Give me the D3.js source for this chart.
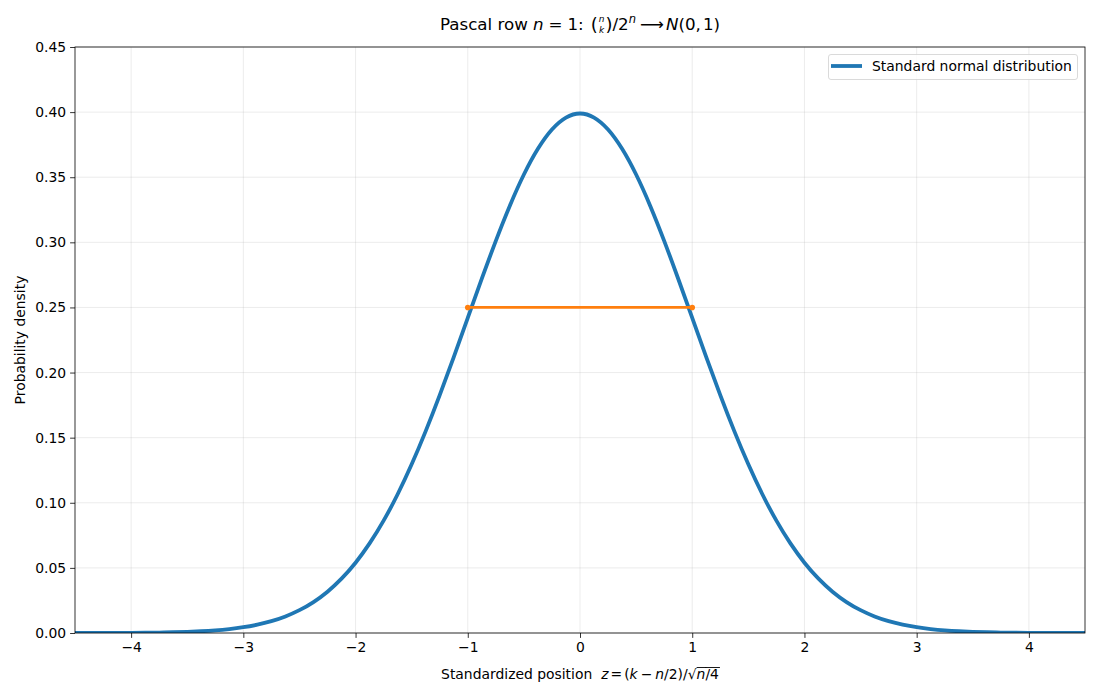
<!DOCTYPE html>
<html><head><meta charset="utf-8">
<script src="https://cdn.jsdelivr.net/npm/d3@7"></script>
<style>body{margin:0;background:#fff;} text{font-family:"DejaVu Sans",sans-serif;white-space:pre;}</style>
</head><body><svg id="c" width="1100" height="700"></svg>
<script>
// Standard normal curve values (z, density)
const curveZ = [-4.5,-4.375,-4.25,-4.125,-4,-3.875,-3.75,-3.625,-3.5,-3.375,-3.25,-3.125,-3,-2.875,-2.75,-2.625,-2.5,-2.375,-2.25,-2.125,-2,-1.875,-1.75,-1.625,-1.5,-1.375,-1.25,-1.125,-1,-0.875,-0.75,-0.625,-0.5,-0.375,-0.25,-0.125,0,0.125,0.25,0.375,0.5,0.625,0.75,0.875,1,1.125,1.25,1.375,1.5,1.625,1.75,1.875,2,2.125,2.25,2.375,2.5,2.625,2.75,2.875,3,3.125,3.25,3.375,3.5,3.625,3.75,3.875,4,4.125,4.25,4.375,4.5];
const curveY = [0.000016,0.000028,0.000048,0.00008,0.000134,0.00022,0.00035,0.00056,0.00087,0.00134,0.00203,0.00302,0.00443,0.0064,0.00909,0.01273,0.01753,0.02377,0.03174,0.04172,0.05399,0.06879,0.08628,0.10654,0.12952,0.15501,0.18265,0.21188,0.24197,0.27205,0.30114,0.32816,0.35207,0.37185,0.38667,0.39584,0.39894,0.39584,0.38667,0.37185,0.35207,0.32816,0.30114,0.27205,0.24197,0.21188,0.18265,0.15501,0.12952,0.10654,0.08628,0.06879,0.05399,0.04172,0.03174,0.02377,0.01753,0.01273,0.00909,0.0064,0.00443,0.00302,0.00203,0.00134,0.00087,0.00056,0.00035,0.00022,0.000134,0.00008,0.000048,0.000028,0.000016];
// Pascal row n=1 standardized points
const pascalZ = [-1, 1];
const pascalY = [0.25, 0.25];
const xTicks = [-4,-3,-2,-1,0,1,2,3,4];
const yTicks = [0,0.05,0.10,0.15,0.20,0.25,0.30,0.35,0.40,0.45];
const legendLabel = "Standard normal distribution";

const svg = d3.select("#c");
const L=75,R=1085,T=47,B=633;
const x = d3.scaleLinear().domain([-4.5,4.5]).range([L,R]);
const y = d3.scaleLinear().domain([0,0.45]).range([B,T]);

// grid
const g = svg.append("g");
g.selectAll(".gx").data(xTicks).join("line").attr("x1",d=>x(d)).attr("x2",d=>x(d)).attr("y1",T).attr("y2",B).attr("stroke","#b0b0b0").attr("stroke-opacity",0.3).attr("stroke-width",0.8);
g.selectAll(".gy").data(yTicks).join("line").attr("y1",d=>y(d)).attr("y2",d=>y(d)).attr("x1",L).attr("x2",R).attr("stroke","#b0b0b0").attr("stroke-opacity",0.3).attr("stroke-width",0.8);

// axes
const fmtX = d => (d<0?"\u2212":"")+Math.abs(d);
const ax = svg.append("g").attr("transform",`translate(0,${B})`).call(d3.axisBottom(x).tickValues(xTicks).tickFormat(fmtX).tickSize(4.9).tickPadding(4));
const ay = svg.append("g").attr("transform",`translate(${L},0)`).call(d3.axisLeft(y).tickValues(yTicks).tickFormat(d3.format(".2f")).tickSize(4.9).tickPadding(4));
[ax,ay].forEach(a=>{a.select(".domain").remove();a.selectAll("text").attr("font-size","13.9px").attr("font-family","DejaVu Sans").attr("fill","#000");a.selectAll("line").attr("stroke","#000").attr("stroke-width",0.8);});

svg.append("clipPath").attr("id","clp").append("rect").attr("x",L).attr("y",T).attr("width",R-L).attr("height",B-T);

// curve
const pts = curveZ.map((z,i)=>[z,curveY[i]]);
svg.append("path").attr("clip-path","url(#clp)").attr("d",d3.line().x(d=>x(d[0])).y(d=>y(d[1])).curve(d3.curveNatural)(pts))
  .attr("fill","none").attr("stroke","#1f77b4").attr("stroke-width",3.8).attr("stroke-linejoin","round");

// pascal
const pp = pascalZ.map((z,i)=>[z,pascalY[i]]);
svg.append("path").attr("d",d3.line().x(d=>x(d[0])).y(d=>y(d[1]))(pp)).attr("fill","none").attr("stroke","#ff7f0e").attr("stroke-width",2.8);
svg.selectAll(".pm").data(pp).join("circle").attr("cx",d=>x(d[0])).attr("cy",d=>y(d[1])).attr("r",2.8).attr("fill","#ff7f0e");

// frame
svg.append("rect").attr("x",L).attr("y",T).attr("width",R-L).attr("height",B-T).attr("fill","none").attr("stroke","#000").attr("stroke-width",0.8);

// legend
svg.append("rect").attr("x",828.5).attr("y",54.5).attr("width",249).attr("height",25).attr("rx",2.5).attr("fill","#fff").attr("fill-opacity",0.8).attr("stroke","#d0d0d0").attr("stroke-width",0.8);
svg.append("line").attr("x1",831).attr("x2",862).attr("y1",66).attr("y2",66).attr("stroke","#1f77b4").attr("stroke-width",3.8);
svg.append("text").attr("x",872).attr("y",71).attr("font-size","13.9px").text(legendLabel);

// rich text layout helper
function measure(parent, t, size, it){
  const tmp = parent.append("text").attr("font-size",size+"px").attr("font-style",it?"italic":"normal").text(t);
  const w = tmp.node().getComputedTextLength(); tmp.remove(); return w;
}
function rich(parent, pieces, cx, baseY){
  const grp = parent.append("g");
  let cur = 0;
  pieces.forEach(p=>{
    if(p.binom){
      const ps = p.psize, ss = p.size;
      const wp = measure(grp,"(",ps,false);
      const w1 = measure(grp,p.binom[0],ss,true), w2 = measure(grp,p.binom[1],ss,true);
      const w = Math.max(w1,w2);
      const t = grp.append("text");
      t.append("tspan").attr("x",cur).attr("y",baseY+1).attr("font-size",ps+"px").text("(");
      t.append("tspan").attr("x",cur+wp+1+(w-w1)/2).attr("y",baseY-8.5).attr("font-size",ss+"px").attr("font-style","italic").text(p.binom[0]);
      t.append("tspan").attr("x",cur+wp+1+(w-w2)/2).attr("y",baseY+2.5).attr("font-size",ss+"px").attr("font-style","italic").text(p.binom[1]);
      t.append("tspan").attr("x",cur+wp+w+2).attr("y",baseY+1).attr("font-size",ps+"px").text(")");
      cur += 2*wp + w + 2;
      const wd = measure(grp,p.den,p.dsize,false);
      t.append("tspan").attr("x",cur).attr("y",baseY).attr("font-size",p.dsize+"px").text(p.den);
      cur += wd;
      const we = measure(grp,p.exp,p.esize,true);
      t.append("tspan").attr("x",cur).attr("y",baseY-7).attr("font-size",p.esize+"px").attr("font-style","italic").text(p.exp);
      cur += we;
    } else if(p.space){ cur += p.space; }
    else {
      const t = grp.append("text").attr("x",cur).attr("y",baseY+(p.dy||0)).attr("font-size",p.size+"px").attr("font-style",p.it?"italic":"normal").text(p.t);
      const w = t.node().getComputedTextLength();
      if(p.over){ grp.append("line").attr("x1",cur).attr("x2",cur+w+1).attr("y1",baseY+p.over).attr("y2",baseY+p.over).attr("stroke","#000").attr("stroke-width",0.9); }
      cur += w;
    }
  });
  grp.attr("transform",`translate(${cx-cur/2},0)`);
  return grp;
}

const S=16.7;
rich(svg,[
  {t:"Pascal row",size:S},{space:5},
  {t:"n",size:S,it:true},{space:5},
  {t:"=",size:S},{space:5},
  {t:"1:",size:S},{space:7},
  {binom:["n","k"],size:9,psize:18,den:"/2",dsize:S,exp:"n",esize:11.5},{space:4},
  {t:"\u27F6",size:S},{space:2},
  {t:"N",size:S,it:true},
  {t:"(0,",size:S},{space:2},
  {t:"1)",size:S}
], 580, 30);

const M=13.9;
rich(svg,[
  {t:"Standardized position",size:M},{space:9},
  {t:"z",size:M,it:true},{space:2},
  {t:"=",size:M},{space:2},
  {t:"(",size:M},
  {t:"k",size:M,it:true},{space:3},
  {t:"\u2212",size:M},{space:3},
  {t:"n",size:M,it:true},
  {t:"/2)/",size:M},
  {t:"\u221A",size:M},
  {t:"n",size:M,it:true,over:-11.5},
  {t:"/4",size:M,over:-11.5}
], 580, 679);

svg.append("text").attr("transform","translate(25,340) rotate(-90)").attr("text-anchor","middle").attr("font-size","13.9px").text("Probability density");
</script></body></html>
